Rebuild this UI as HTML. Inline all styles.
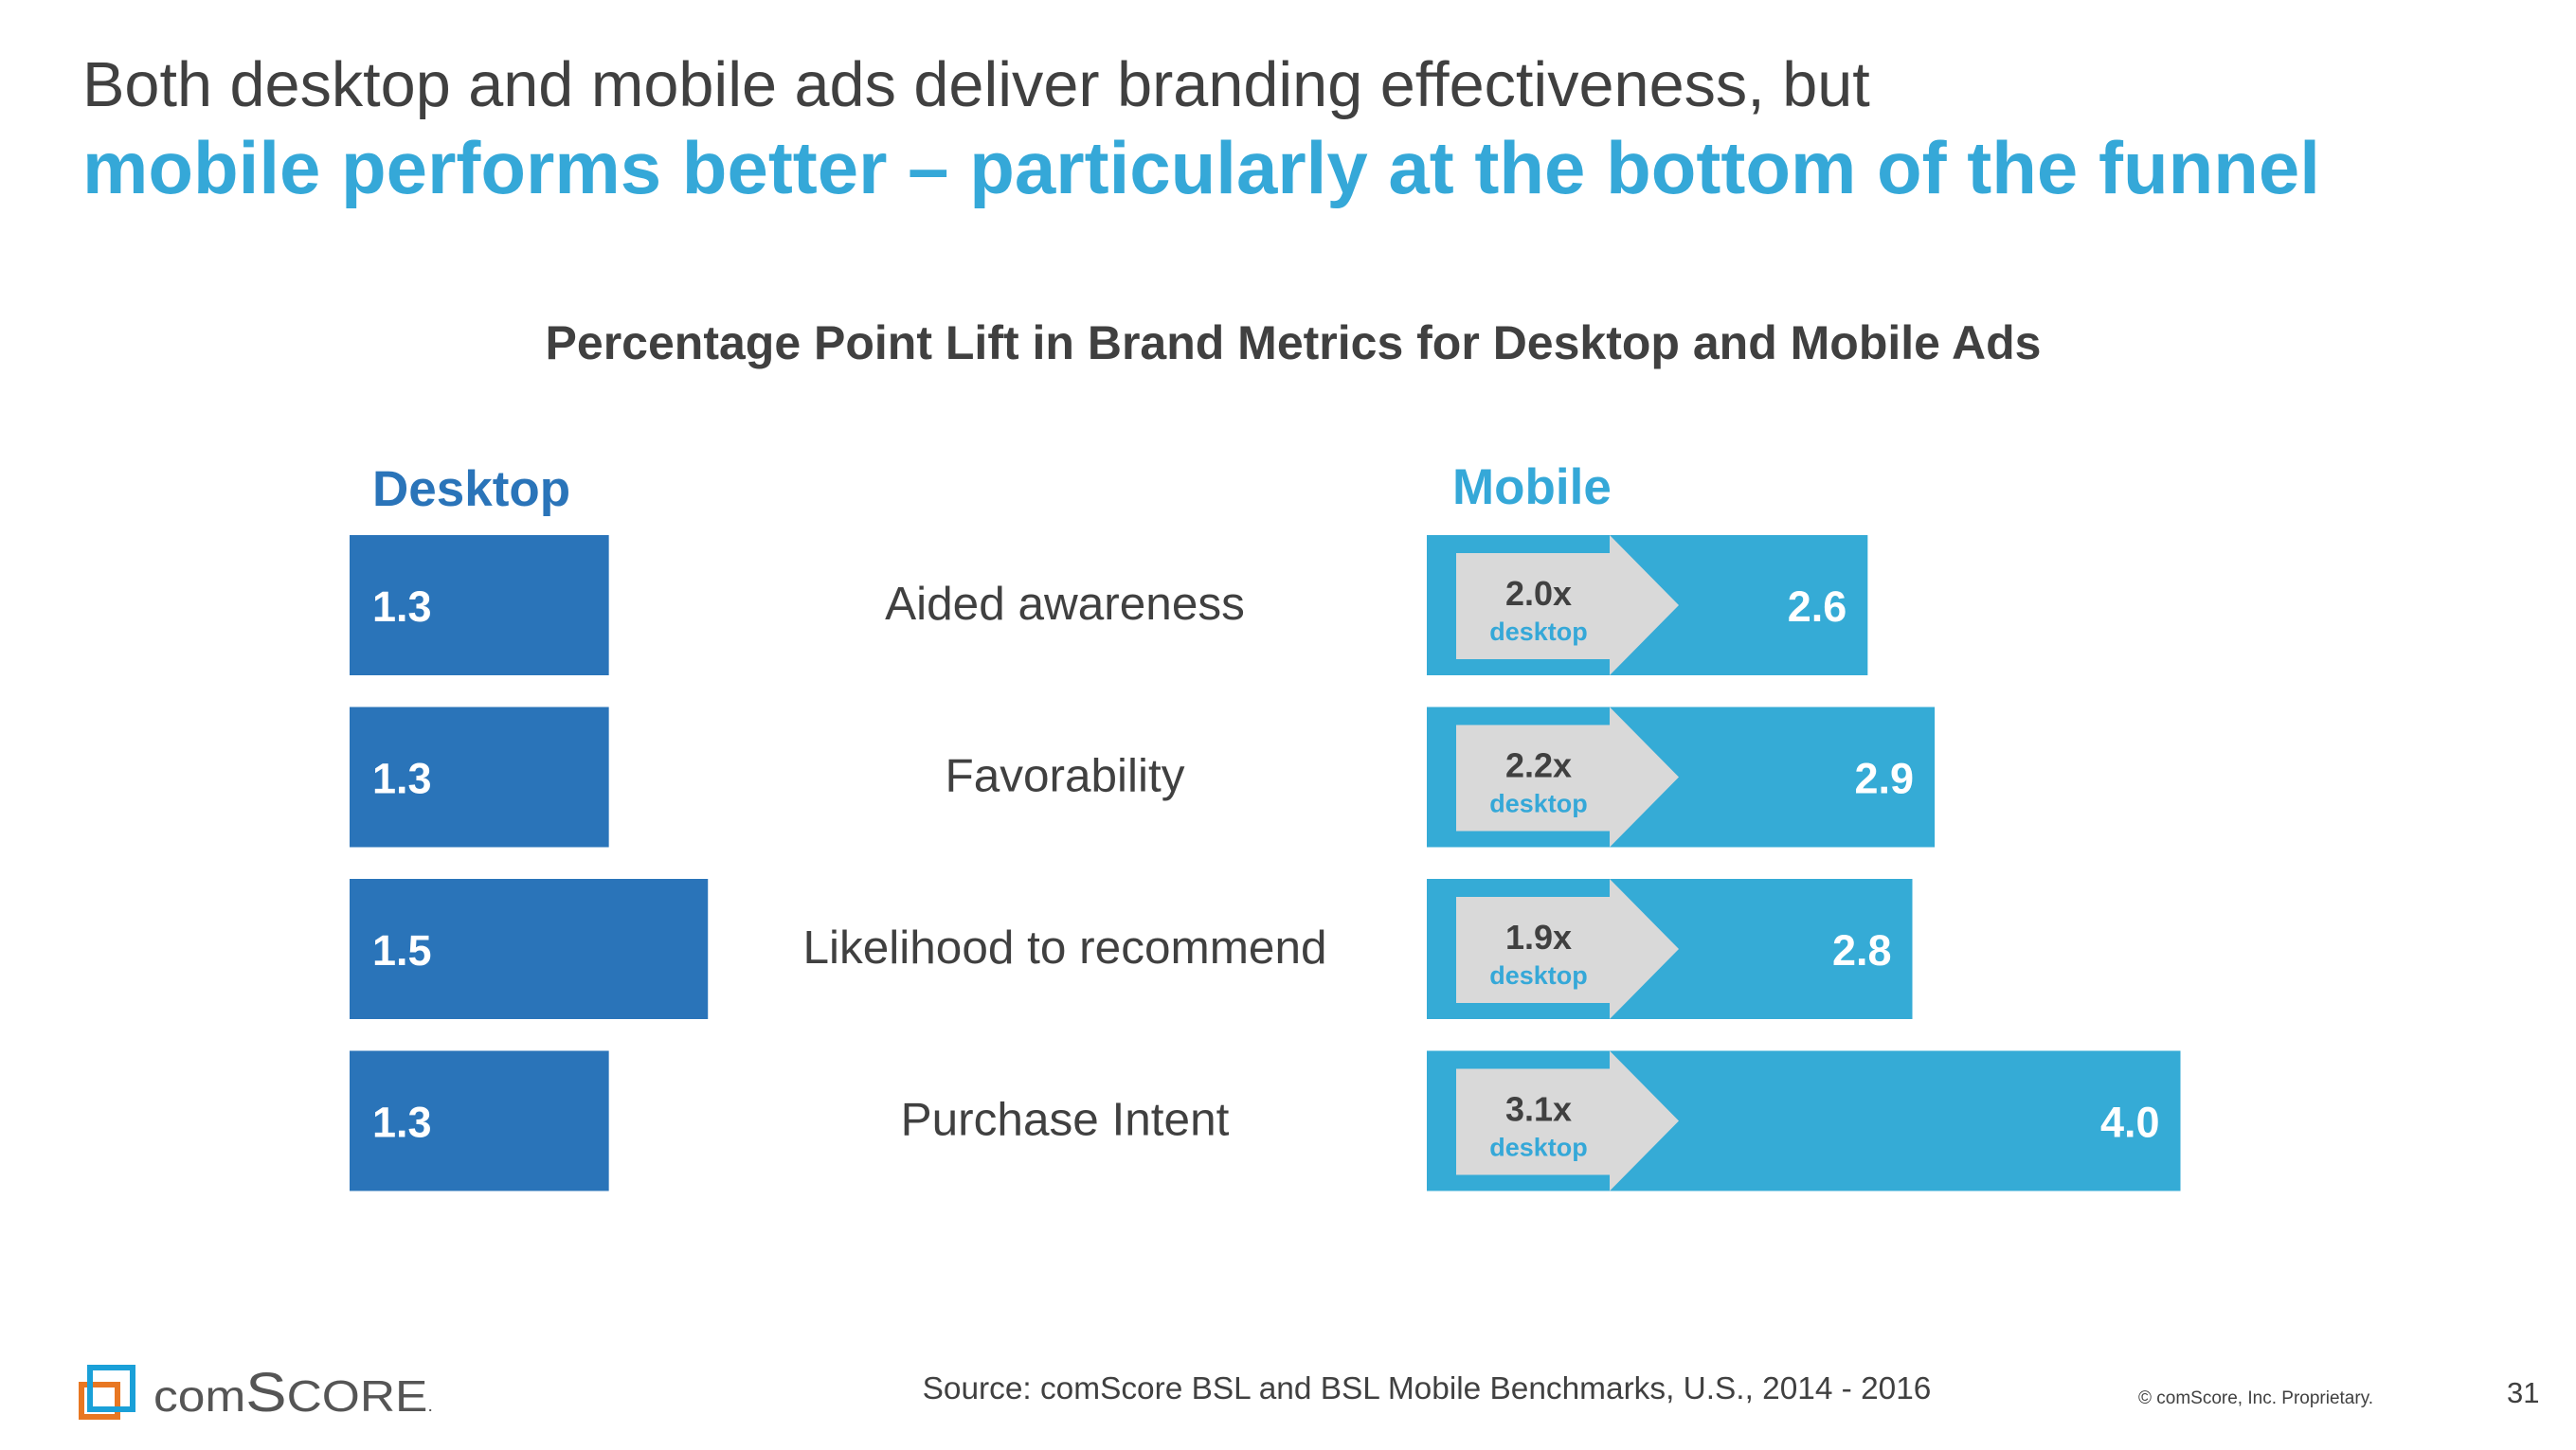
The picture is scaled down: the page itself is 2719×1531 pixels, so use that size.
<!DOCTYPE html>
<html><head><meta charset="utf-8"><style>
html,body{margin:0;padding:0;background:#fff;}
svg{display:block;font-family:"Liberation Sans",Arial,sans-serif;}
</style></head><body>
<svg id="chart" width="2719" height="1531" viewBox="0 0 2719 1531" xmlns="http://www.w3.org/2000/svg">
<text x="87" y="112" font-size="66.6" fill="#404040">Both desktop and mobile ads deliver branding effectiveness, but</text>
<text x="87" y="204" font-size="78" font-weight="bold" fill="#35a8d8">mobile performs better – particularly at the bottom of the funnel</text>
<text x="1365" y="379" font-size="50" font-weight="bold" fill="#404040" text-anchor="middle">Percentage Point Lift in Brand Metrics for Desktop and Mobile Ads</text>
<text x="393" y="534" font-size="53" font-weight="bold" fill="#2a74b9">Desktop</text>
<text x="1533" y="532" font-size="53" font-weight="bold" fill="#35a8d8">Mobile</text>
<g id="rows"></g>
<g>
<path d="M86 1462 L86 1496 L124 1496 L124 1462 Z" fill="none" stroke="#e87722" stroke-width="6"/>
<path d="M95 1444 L140 1444 L140 1488 L95 1488 Z" fill="none" stroke="#1aa0d8" stroke-width="6"/>
<text x="162" y="1490" font-size="46" fill="#555" textLength="295" lengthAdjust="spacingAndGlyphs">com<tspan font-size="58">S</tspan>CORE<tspan font-size="18">.</tspan></text>
</g>
<text x="1506" y="1477" font-size="33.4" fill="#404040" text-anchor="middle">Source: comScore BSL and BSL Mobile Benchmarks, U.S., 2014 - 2016</text>
<text x="2257" y="1482" font-size="19" fill="#404040">© comScore, Inc. Proprietary.</text>
<text x="2646" y="1481" font-size="31" fill="#404040">31</text>
</svg>
<script>
const categories = ["Aided awareness","Favorability","Likelihood to recommend","Purchase Intent"];
const desktopValues = [1.3,1.3,1.5,1.3];
const mobileValues = [2.6,2.9,2.8,4.0];
const multiplierLabels = ["2.0x","2.2x","1.9x","3.1x"];

const NS = "http://www.w3.org/2000/svg";
const g = document.getElementById("rows");
const dX0 = 369, mX0 = 1506;
function dW(v){ return (-233 + 300*v)*1.743; }
function mW(v){ return (-84.8 + 135.3*v)*1.743; }
const rowTop0 = 565, rowStep = 181.5, rowH = 148;
function rowY(i){ return rowTop0 + i*rowStep; }
function mk(tag, attrs, text){
  const e = document.createElementNS(NS, tag);
  for (const k in attrs) e.setAttribute(k, attrs[k]);
  if (text !== undefined) e.textContent = text;
  g.appendChild(e); return e;
}
categories.forEach((c,i)=>{
  const y = rowY(i);
  let e = mk("rect",{x:dX0,y:y,width:dW(desktopValues[i]),height:rowH,fill:"#2a74b9"});
  
  
  e = mk("text",{x:dX0+24,y:y+91,"font-size":45,"font-weight":"bold",fill:"#fff"},desktopValues[i].toFixed(1));
  
  
  e = mk("text",{x:1124,y:y+89,"font-size":49.5,fill:"#404040","text-anchor":"middle"},c);
  
  
  const mw = mW(mobileValues[i]);
  e = mk("rect",{x:mX0,y:y,width:mw,height:rowH,fill:"#35abd6"});
  
  
  const pts = [[mX0+31,y+19],[mX0+193,y+19],[mX0+193,y],[mX0+266,y+rowH/2],[mX0+193,y+rowH],[mX0+193,y+rowH-17],[mX0+31,y+rowH-17]].map(p=>p.join(",")).join(" ");
  e = mk("polygon",{points:pts,fill:"#d9d9d9"});
  
  
  e = mk("text",{x:mX0+118,y:y+74,"font-size":36,"font-weight":"bold",fill:"#404040","text-anchor":"middle"},multiplierLabels[i]);
  
  
  e = mk("text",{x:mX0+118,y:y+111,"font-size":27,"font-weight":"bold",fill:"#35a8d8","text-anchor":"middle"},"desktop");
  
  
  e = mk("text",{x:mX0+mw-22,y:y+91,"font-size":45,"font-weight":"bold",fill:"#fff","text-anchor":"end"},mobileValues[i].toFixed(1));
  
  
});
</script>
</body></html>
